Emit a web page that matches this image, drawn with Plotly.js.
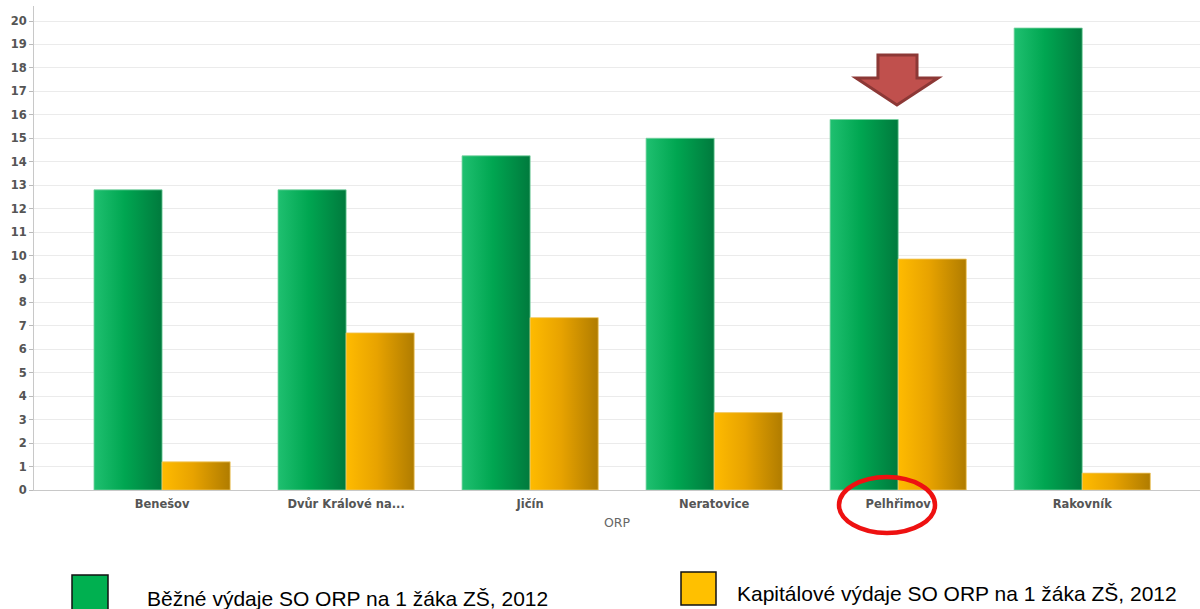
<!DOCTYPE html>
<html>
<head>
<meta charset="utf-8">
<script src="https://cdn.plot.ly/plotly-3.0.1.min.js"></script>
<style>html,body{margin:0;padding:0;background:#fff;}#chart{width:1200px;height:609px;}</style>
</head>
<body>
<div id="chart"></div>
<script>
const categories = ["Benešov", "Dvůr Králové na...", "Jičín", "Neratovice", "Pelhřimov", "Rakovník"];
const bezneVydaje = [12.8, 12.8, 14.25, 15.0, 15.8, 19.7];
const kapitaloveVydaje = [1.2, 6.7, 7.35, 3.3, 9.85, 0.72];
const seriesNames = ["Běžné výdaje SO ORP na 1 žáka ZŠ, 2012", "Kapitálové výdaje SO ORP na 1 žáka ZŠ, 2012"];
const xTitle = "ORP";

const W = 1200, H = 609, L = 34, R = 0, T = 6, B = 119;
const pw = W - L - R, ph = H - T - B;
const px = x => (x - L) / pw;
const py = y => (H - B - y) / ph;

const traces = [
  {type: 'bar', name: seriesNames[0], x: categories, y: bezneVydaje,
   marker: {color: '#00a651', line: {color: 'rgba(120,210,160,0.8)', width: 1}}, hoverinfo: 'y'},
  {type: 'bar', name: seriesNames[1], x: categories, y: kapitaloveVydaje,
   marker: {color: '#e6a800', line: {color: 'rgba(240,200,100,0.8)', width: 1}}, hoverinfo: 'y'}
];

const arrowPts = [[878,55],[917,55],[917,78],[938,78],[897,105],[856,78],[878,78]];
const arrowPath = 'M' + arrowPts.map(p => px(p[0]).toFixed(4) + ',' + py(p[1]).toFixed(4)).join(' L') + ' Z';

const layout = {
  width: W, height: H,
  margin: {l: L, r: R, t: T, b: B},
  paper_bgcolor: '#fff', plot_bgcolor: '#fff',
  showlegend: false,
  barmode: 'group', bargap: 0.26, bargroupgap: 0,
  font: {family: 'DejaVu Sans, Verdana, sans-serif', color: '#555'},
  xaxis: {
    type: 'category', range: [-0.696, 5.64],
    showline: true, linecolor: '#c8c8c8', linewidth: 1,
    showgrid: false, ticks: '', zeroline: false,
    ticklabelstandoff: 3,
    tickfont: {size: 11.5, color: '#555', weight: 'bold'},
    title: {text: xTitle, font: {size: 12.5, color: '#666'}, standoff: 8}
  },
  yaxis: {
    range: [0, 20.64], dtick: 1, tick0: 0,
    showline: true, linecolor: '#c8c8c8', linewidth: 1,
    ticks: 'outside', ticklen: 4, tickcolor: '#bbb',
    gridcolor: '#ebebeb', zeroline: false,
    tickfont: {size: 11.5, color: '#555', weight: 'bold'}
  },
  shapes: [
    {type: 'path', xref: 'paper', yref: 'paper', path: arrowPath,
     fillcolor: '#c0504d', line: {color: '#8c3836', width: 3}},
    {type: 'circle', xref: 'paper', yref: 'paper',
     x0: px(839), x1: px(935), y0: py(477), y1: py(533),
     line: {color: '#ee1111', width: 4.5}},
    {type: 'rect', xref: 'paper', yref: 'paper',
     x0: px(72), x1: px(108), y0: py(575), y1: py(612),
     fillcolor: '#00b050', line: {color: '#111', width: 1.5}},
    {type: 'rect', xref: 'paper', yref: 'paper',
     x0: px(681), x1: px(716), y0: py(572), y1: py(605),
     fillcolor: '#ffc000', line: {color: '#111', width: 1.5}}
  ],
  annotations: [
    {xref: 'paper', yref: 'paper', x: px(145), y: py(598), xanchor: 'left', yanchor: 'middle',
     text: seriesNames[0], showarrow: false, font: {family: 'Liberation Sans, Arial, sans-serif', size: 21, color: '#000'}},
    {xref: 'paper', yref: 'paper', x: px(735), y: py(593), xanchor: 'left', yanchor: 'middle',
     text: seriesNames[1], showarrow: false, font: {family: 'Liberation Sans, Arial, sans-serif', size: 21, color: '#000'}}
  ]
};

function addGradients(gd) {
  const svg = gd.querySelector('svg.main-svg');
  if (!svg) return;
  const ns = 'http://www.w3.org/2000/svg';
  let defs = svg.querySelector('defs');
  if (!defs) { defs = document.createElementNS(ns, 'defs'); svg.insertBefore(defs, svg.firstChild); }
  const mk = (id, stops) => {
    if (svg.querySelector('#' + id)) return;
    const g = document.createElementNS(ns, 'linearGradient');
    g.setAttribute('id', id); g.setAttribute('x1', '0'); g.setAttribute('x2', '1');
    g.setAttribute('y1', '0'); g.setAttribute('y2', '0');
    stops.forEach(s => {
      const st = document.createElementNS(ns, 'stop');
      st.setAttribute('offset', s[0]); st.setAttribute('stop-color', s[1]);
      g.appendChild(st);
    });
    defs.appendChild(g);
  };
  mk('gradGreen', [['0', '#1fc070'], ['0.45', '#00a651'], ['1', '#007a3d']]);
  mk('gradYellow', [['0', '#ffbb00'], ['0.45', '#e8a300'], ['1', '#b07c00']]);
  const traceGroups = gd.querySelectorAll('.barlayer .trace');
  const ids = ['gradGreen', 'gradYellow'];
  traceGroups.forEach((tg, i) => {
    tg.querySelectorAll('path').forEach(p => { p.style.fill = 'url(#' + ids[i % 2] + ')'; });
  });
}

Plotly.newPlot('chart', traces, layout, {displayModeBar: false, staticPlot: true}).then(gd => {
  addGradients(gd);
  gd.on('plotly_afterplot', () => addGradients(gd));
});
</script>
</body>
</html>
